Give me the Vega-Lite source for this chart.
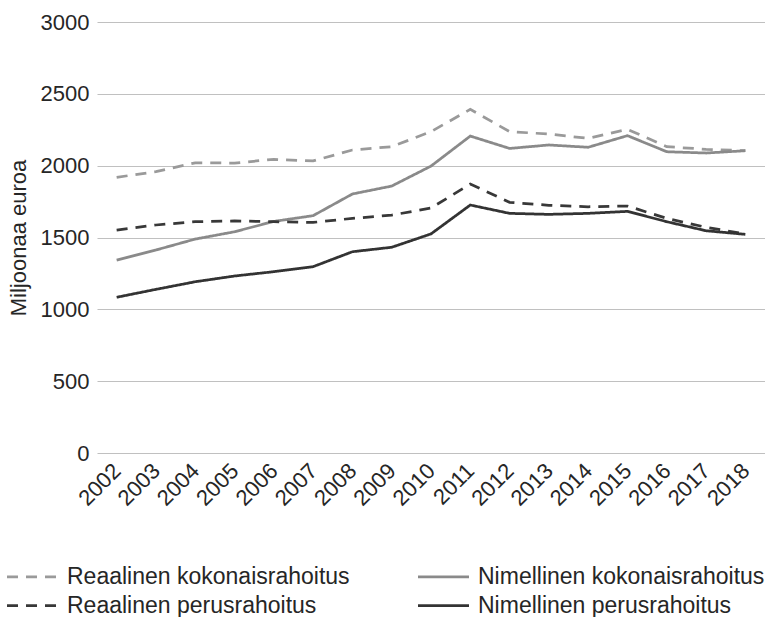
{
  "$schema": "https://vega.github.io/schema/vega-lite/v6.json",
  "width": 668,
  "height": 431,
  "autosize": {"type": "none"},
  "padding": {"left": 97, "top": 22, "right": 0, "bottom": 164},
  "background": "white",
  "config": {
    "view": {"stroke": null},
    "font": "Liberation Sans",
    "axis": {"labelFont": "Liberation Sans", "titleFont": "Liberation Sans", "labelFontSize": 22, "titleFontSize": 22, "labelColor": "#262626", "titleColor": "#262626", "titleFontWeight": "normal"},
    "legend": {"labelFont": "Liberation Sans", "labelFontSize": 23, "labelColor": "#262626"}
  },
  "data": {"values": [
    {"year": "2002", "series": "Reaalinen kokonaisrahoitus", "value": 1919},
    {"year": "2003", "series": "Reaalinen kokonaisrahoitus", "value": 1958},
    {"year": "2004", "series": "Reaalinen kokonaisrahoitus", "value": 2020},
    {"year": "2005", "series": "Reaalinen kokonaisrahoitus", "value": 2018},
    {"year": "2006", "series": "Reaalinen kokonaisrahoitus", "value": 2044},
    {"year": "2007", "series": "Reaalinen kokonaisrahoitus", "value": 2033},
    {"year": "2008", "series": "Reaalinen kokonaisrahoitus", "value": 2109},
    {"year": "2009", "series": "Reaalinen kokonaisrahoitus", "value": 2132},
    {"year": "2010", "series": "Reaalinen kokonaisrahoitus", "value": 2237},
    {"year": "2011", "series": "Reaalinen kokonaisrahoitus", "value": 2392},
    {"year": "2012", "series": "Reaalinen kokonaisrahoitus", "value": 2237},
    {"year": "2013", "series": "Reaalinen kokonaisrahoitus", "value": 2220},
    {"year": "2014", "series": "Reaalinen kokonaisrahoitus", "value": 2190},
    {"year": "2015", "series": "Reaalinen kokonaisrahoitus", "value": 2253},
    {"year": "2016", "series": "Reaalinen kokonaisrahoitus", "value": 2132},
    {"year": "2017", "series": "Reaalinen kokonaisrahoitus", "value": 2114},
    {"year": "2018", "series": "Reaalinen kokonaisrahoitus", "value": 2104},
    {"year": "2002", "series": "Nimellinen kokonaisrahoitus", "value": 1343},
    {"year": "2003", "series": "Nimellinen kokonaisrahoitus", "value": 1413},
    {"year": "2004", "series": "Nimellinen kokonaisrahoitus", "value": 1489},
    {"year": "2005", "series": "Nimellinen kokonaisrahoitus", "value": 1540},
    {"year": "2006", "series": "Nimellinen kokonaisrahoitus", "value": 1612},
    {"year": "2007", "series": "Nimellinen kokonaisrahoitus", "value": 1652},
    {"year": "2008", "series": "Nimellinen kokonaisrahoitus", "value": 1803},
    {"year": "2009", "series": "Nimellinen kokonaisrahoitus", "value": 1858},
    {"year": "2010", "series": "Nimellinen kokonaisrahoitus", "value": 1997},
    {"year": "2011", "series": "Nimellinen kokonaisrahoitus", "value": 2206},
    {"year": "2012", "series": "Nimellinen kokonaisrahoitus", "value": 2120},
    {"year": "2013", "series": "Nimellinen kokonaisrahoitus", "value": 2144},
    {"year": "2014", "series": "Nimellinen kokonaisrahoitus", "value": 2128},
    {"year": "2015", "series": "Nimellinen kokonaisrahoitus", "value": 2209},
    {"year": "2016", "series": "Nimellinen kokonaisrahoitus", "value": 2097},
    {"year": "2017", "series": "Nimellinen kokonaisrahoitus", "value": 2088},
    {"year": "2018", "series": "Nimellinen kokonaisrahoitus", "value": 2104},
    {"year": "2002", "series": "Reaalinen perusrahoitus", "value": 1552},
    {"year": "2003", "series": "Reaalinen perusrahoitus", "value": 1587},
    {"year": "2004", "series": "Reaalinen perusrahoitus", "value": 1610},
    {"year": "2005", "series": "Reaalinen perusrahoitus", "value": 1615},
    {"year": "2006", "series": "Reaalinen perusrahoitus", "value": 1610},
    {"year": "2007", "series": "Reaalinen perusrahoitus", "value": 1605},
    {"year": "2008", "series": "Reaalinen perusrahoitus", "value": 1633},
    {"year": "2009", "series": "Reaalinen perusrahoitus", "value": 1656},
    {"year": "2010", "series": "Reaalinen perusrahoitus", "value": 1705},
    {"year": "2011", "series": "Reaalinen perusrahoitus", "value": 1872},
    {"year": "2012", "series": "Reaalinen perusrahoitus", "value": 1745},
    {"year": "2013", "series": "Reaalinen perusrahoitus", "value": 1724},
    {"year": "2014", "series": "Reaalinen perusrahoitus", "value": 1714},
    {"year": "2015", "series": "Reaalinen perusrahoitus", "value": 1719},
    {"year": "2016", "series": "Reaalinen perusrahoitus", "value": 1633},
    {"year": "2017", "series": "Reaalinen perusrahoitus", "value": 1571},
    {"year": "2018", "series": "Reaalinen perusrahoitus", "value": 1524},
    {"year": "2002", "series": "Nimellinen perusrahoitus", "value": 1084},
    {"year": "2003", "series": "Nimellinen perusrahoitus", "value": 1139},
    {"year": "2004", "series": "Nimellinen perusrahoitus", "value": 1192},
    {"year": "2005", "series": "Nimellinen perusrahoitus", "value": 1232},
    {"year": "2006", "series": "Nimellinen perusrahoitus", "value": 1262},
    {"year": "2007", "series": "Nimellinen perusrahoitus", "value": 1297},
    {"year": "2008", "series": "Nimellinen perusrahoitus", "value": 1401},
    {"year": "2009", "series": "Nimellinen perusrahoitus", "value": 1432},
    {"year": "2010", "series": "Nimellinen perusrahoitus", "value": 1525},
    {"year": "2011", "series": "Nimellinen perusrahoitus", "value": 1726},
    {"year": "2012", "series": "Nimellinen perusrahoitus", "value": 1668},
    {"year": "2013", "series": "Nimellinen perusrahoitus", "value": 1661},
    {"year": "2014", "series": "Nimellinen perusrahoitus", "value": 1668},
    {"year": "2015", "series": "Nimellinen perusrahoitus", "value": 1682},
    {"year": "2016", "series": "Nimellinen perusrahoitus", "value": 1610},
    {"year": "2017", "series": "Nimellinen perusrahoitus", "value": 1547},
    {"year": "2018", "series": "Nimellinen perusrahoitus", "value": 1522}
  ]},
  "mark": {"type": "line", "strokeWidth": 2.75},
  "encoding": {
    "x": {
      "field": "year", "type": "ordinal", "title": null,
      "scale": {"type": "point", "padding": 0.5},
      "axis": {"labelAngle": -45, "labelAlign": "right", "labelBaseline": "middle", "domain": false, "ticks": false, "labelPadding": 14, "grid": false}
    },
    "y": {
      "field": "value", "type": "quantitative", "title": "Miljoonaa euroa",
      "scale": {"domain": [0, 3000]},
      "axis": {"values": [0, 500, 1000, 1500, 2000, 2500, 3000], "format": "d", "domain": false, "ticks": false, "labelPadding": 8, "titlePadding": 10, "gridColor": "#c0c0c0", "gridWidth": 1.2}
    },
    "color": {
      "field": "series", "type": "nominal",
      "sort": ["Reaalinen kokonaisrahoitus", "Nimellinen kokonaisrahoitus", "Reaalinen perusrahoitus", "Nimellinen perusrahoitus"],
      "scale": {
        "domain": ["Reaalinen kokonaisrahoitus", "Nimellinen kokonaisrahoitus", "Reaalinen perusrahoitus", "Nimellinen perusrahoitus"],
        "range": ["#9a9a9a", "#8a8a8a", "#383838", "#333333"]
      },
      "legend": {
        "title": null, "orient": "none", "legendX": -76, "legendY": 543, "columns": 2, "direction": "horizontal",
        "symbolType": "M-10,0H10", "symbolSize": 26, "symbolStrokeWidth": 2.75, "columnPadding": 62, "rowPadding": 5, "labelOffset": 23, "labelLimit": 500
      }
    },
    "strokeDash": {
      "field": "series", "type": "nominal",
      "scale": {
        "domain": ["Reaalinen kokonaisrahoitus", "Nimellinen kokonaisrahoitus", "Reaalinen perusrahoitus", "Nimellinen perusrahoitus"],
        "range": [[11, 8], [1, 0], [11, 8], [1, 0]]
      },
      "legend": null
    }
  }
}
